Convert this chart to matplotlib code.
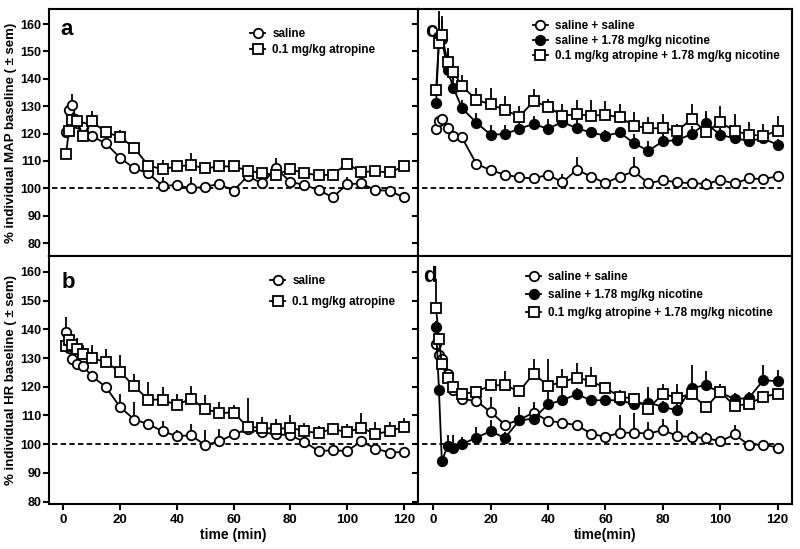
import numpy as np
import matplotlib
matplotlib.use("Agg")
import matplotlib.pyplot as plt

plt.rcParams['font.family'] = ['Liberation Sans', 'DejaVu Sans']

# sampling times (min)
time_min = [1, 2, 3, 5, 7, 10, 15, 20, 25, 30, 35, 40, 45, 50, 55, 60,
            65, 70, 75, 80, 85, 90, 95, 100, 105, 110, 115, 120]
baseline = 100

# panel a: MAP, saline vs atropine
a_saline = [120.7, 128.6, 130.4, 124.0, 122.5, 119.1, 116.4, 111.2, 107.3, 105.5, 100.9, 101.2, 100.0, 100.6,
            101.6, 99.1, 104.5, 101.8, 107.3, 102.4, 101.2, 99.4, 96.7, 101.5, 101.8, 99.4, 99.1, 96.7]
a_saline_err = [1, 1, 4, 1, 1, 1, 1, 1, 1, 1, 3.4, 1.5, 4, 1.5, 1.5, 1.5, 3, 1.5, 3.7, 1.5, 1.5, 1.5, 1.5,
                2.8, 1.5, 1.5, 1.5, 1.5]
a_atropine = [112.5, 121.0, 125.0, 124.5, 119.0, 124.5, 120.5, 118.8, 114.8, 108.3, 107.0, 108.0, 108.5, 107.3,
              108.0, 108.0, 106.5, 105.5, 105.0, 107.0, 105.5, 104.8, 105.0, 109.0, 106.0, 106.2, 105.8, 108.0]
a_atropine_err = [1, 1, 1, 1, 1, 3.8, 1.5, 2.5, 2, 2, 3.3, 2, 4.5, 2, 2, 2, 2, 2, 4, 2.2, 2, 2, 2, 2, 2, 2, 2, 2]

# panel b: HR, saline vs atropine
b_saline = [139.1, 133.5, 129.8, 128.0, 127.2, 123.8, 119.9, 113.0, 108.6, 107.0, 104.5, 102.8, 103.1, 99.7,
            101.0, 103.4, 105.2, 104.1, 103.5, 103.1, 100.8, 97.6, 97.9, 97.6, 101.0, 98.5, 97.1, 97.3]
b_saline_err = [5.2, 1, 1, 1, 1, 1, 1.5, 4.6, 6, 1.5, 3.5, 2, 4, 5.2, 4.4, 2, 2, 1.5, 1.5, 1.5, 1.5, 1.5,
                1.5, 1.5, 1.5, 1.5, 1.5, 1.5]
b_atropine = [134.2, 136.2, 134.4, 133.3, 131.5, 130.0, 128.6, 125.2, 120.2, 115.5, 115.5, 113.6, 115.9, 112.2,
              110.9, 111.0, 106.0, 105.8, 105.2, 105.8, 104.5, 103.9, 105.4, 104.1, 105.8, 103.5, 104.6, 106.0]
b_atropine_err = [1, 3, 3.5, 3.5, 3, 4.7, 4.7, 5.8, 4.4, 6.2, 4.5, 4, 4.4, 4.8, 3.8, 2.6, 10, 3.7, 3.5, 4.3,
                  3, 2.5, 2, 3, 4.9, 4.3, 3, 3]

# panel c: MAP, nicotine
c_sal_sal = [121.5, 124.7, 125.4, 122.2, 119.0, 118.6, 109.0, 106.6, 105.0, 104.0, 103.6, 105.0, 102.2, 106.8,
             104.3, 101.9, 104.3, 106.2, 101.8, 103.0, 102.2, 101.9, 101.6, 103.0, 101.8, 103.6, 103.4, 104.4]
c_sal_sal_err = [1, 1, 1, 1, 1, 1, 1.5, 1.5, 1.5, 1.5, 1.5, 1.5, 3, 4.5, 1.5, 1.5, 1.5, 5.4, 1.5, 1.5,
                 1.5, 1.5, 2, 1.5, 2, 1.5, 1.5, 1.5]
c_sal_nic = [131.0, 155.8, 154.7, 143.1, 136.8, 129.3, 124.0, 119.6, 119.8, 121.8, 123.5, 121.7, 124.3, 121.9,
             120.4, 119.2, 120.4, 116.4, 113.7, 117.2, 117.6, 119.8, 123.7, 119.6, 118.2, 117.4, 118.2, 115.9]
c_sal_nic_err = [1, 9, 6.7, 7, 5.7, 3, 3.4, 3.4, 3.4, 4, 3, 3.6, 4.7, 3, 2, 2, 2, 3.4, 3.7, 2.5, 3.4,
                 3.1, 3.4, 2.5, 2.5, 2, 2, 2]
c_atr_nic = [136.0, 153.0, 156.0, 146.2, 142.6, 137.4, 132.3, 130.7, 128.6, 126.2, 131.8, 129.8, 126.5, 127.1,
             126.5, 126.9, 125.9, 122.9, 121.9, 122.0, 121.0, 125.3, 120.7, 124.1, 121.0, 119.6, 119.2, 121.0]
c_atr_nic_err = [2, 9, 7, 5, 2.3, 4, 4.3, 6, 5.2, 4, 4.5, 3, 4.3, 5.1, 5.7, 5.1, 4.9, 4.8, 4, 5.1, 2.5,
                 5.5, 7.6, 6.1, 6.1, 4.5, 4.3, 5.5]

# panel d: HR, nicotine
d_sal_sal = [135.0, 131.0, 129.8, 124.6, 118.8, 115.7, 115.1, 111.2, 106.8, 108.5, 111.0, 108.1, 107.5, 106.6,
             103.7, 102.5, 104.0, 104.0, 103.7, 104.9, 102.9, 102.5, 102.2, 101.0, 103.4, 99.7, 99.9, 98.8]
d_sal_sal_err = [1, 1, 1, 1, 1, 1, 1.5, 5.3, 1.5, 1.5, 2.6, 1.5, 1.5, 1.5, 1.5, 1.5, 6, 6.7, 4.1, 4, 5.7,
                 2, 2, 2, 3.2, 1.5, 1.5, 1.5]
d_sal_nic = [140.8, 118.8, 94.2, 99.3, 98.7, 100.0, 102.3, 104.5, 102.2, 108.3, 108.9, 113.9, 115.3, 117.4,
             115.3, 115.3, 115.3, 113.9, 114.5, 113.0, 111.8, 119.6, 120.5, 118.0, 115.7, 116.1, 122.3, 121.9]
d_sal_nic_err = [2, 2, 1, 3.8, 4.4, 2.5, 3.7, 3.8, 2, 4.7, 5.8, 4.3, 4.6, 2, 2, 2, 2, 2, 5.4, 2, 7, 8.1,
                 4.9, 3, 2, 2, 5.2, 3.8]
d_atr_nic = [147.5, 136.5, 128.0, 123.0, 120.0, 117.5, 118.2, 120.5, 120.5, 118.4, 124.6, 120.3, 121.7, 123.2,
             121.9, 119.6, 116.5, 115.9, 112.4, 117.6, 116.1, 117.6, 112.8, 118.3, 113.3, 114.1, 116.5, 117.6]
d_atr_nic_err = [9.9, 2, 1.5, 1.5, 1.5, 2, 2, 2, 4.9, 2, 5.2, 9.5, 4.6, 5.2, 5, 2, 2.3, 2, 6.4, 3.5, 4.7,
                 2, 2, 2, 2, 2, 2, 2]

yticks = [80, 90, 100, 110, 120, 130, 140, 150, 160]
xticks = [0, 20, 40, 60, 80, 100, 120]


def draw_series(ax, y, err, marker, face, label):
    t = np.array(time_min)
    y = np.array(y)
    ax.vlines(t, y, y + np.array(err), color='black', lw=1.3, zorder=2)
    line, = ax.plot(t, y, color='black', lw=1.3, marker=marker, markersize=6.8,
                    markerfacecolor=face, markeredgecolor='black', markeredgewidth=1.3,
                    label=label, zorder=3)
    return line


def setup(ax, ylim, xlim, left_labels, bottom_labels):
    ax.set_xlim(*xlim)
    ax.set_ylim(*ylim)
    ax.set_yticks(yticks)
    ax.set_xticks(xticks)
    ax.hlines(baseline, -4, 121, color='black', lw=1.3, linestyles=(0, (3, 1.8)), zorder=1)
    ax.tick_params(direction='out', length=4, width=1.5, pad=1.5,
                   labelleft=left_labels, labelbottom=bottom_labels)
    ax.tick_params(axis='y', labelsize=9)
    ax.tick_params(axis='x', labelsize=9.5, pad=3)
    for lab in ax.get_xticklabels() + ax.get_yticklabels():
        lab.set_fontweight('bold')
    for s in ax.spines.values():
        s.set_linewidth(1.5)


fig = plt.figure(figsize=(8, 5.49), dpi=100)
ax_a = fig.add_axes([0.06125, 0.5337, 0.46125, 0.45])
ax_b = fig.add_axes([0.06125, 0.082, 0.46125, 0.4517])
ax_c = fig.add_axes([0.5225, 0.5337, 0.4675, 0.45])
ax_d = fig.add_axes([0.5225, 0.082, 0.4675, 0.4517])

setup(ax_a, (75.3, 165.5), (-5, 125), True, False)
setup(ax_b, (79.2, 165.5), (-5, 125), True, True)
setup(ax_c, (75.3, 165.5), (-5.3, 125), False, False)
setup(ax_d, (79.2, 165.5), (-5.3, 125), False, True)

draw_series(ax_a, a_saline, a_saline_err, 'o', 'white', 'saline')
draw_series(ax_a, a_atropine, a_atropine_err, 's', 'white', '0.1 mg/kg atropine')
draw_series(ax_b, b_saline, b_saline_err, 'o', 'white', 'saline')
draw_series(ax_b, b_atropine, b_atropine_err, 's', 'white', '0.1 mg/kg atropine')
for ax, ss, sse, sn, sne, an, ane in [
        (ax_c, c_sal_sal, c_sal_sal_err, c_sal_nic, c_sal_nic_err, c_atr_nic, c_atr_nic_err),
        (ax_d, d_sal_sal, d_sal_sal_err, d_sal_nic, d_sal_nic_err, d_atr_nic, d_atr_nic_err)]:
    draw_series(ax, ss, sse, 'o', 'white', 'saline + saline')
    draw_series(ax, sn, sne, 'o', 'black', 'saline + 1.78 mg/kg nicotine')
    draw_series(ax, an, ane, 's', 'white', '0.1 mg/kg atropine + 1.78 mg/kg nicotine')

ax_a.set_ylabel('% individual MAP baseline ( \u00b1 sem)', fontsize=9.5, fontweight='bold')
ax_b.set_ylabel('% individual HR baseline ( \u00b1 sem)', fontsize=9.5, fontweight='bold')
ax_a.yaxis.set_label_coords(-0.088, 0.5)
ax_b.yaxis.set_label_coords(-0.088, 0.5)
ax_b.set_xlabel('time (min)', fontsize=10, fontweight='bold', labelpad=2)
ax_d.set_xlabel('time(min)', fontsize=10, fontweight='bold', labelpad=2)

for ax, letter, x, y in [(ax_a, 'a', 0.03, 0.895), (ax_b, 'b', 0.035, 0.871),
                         (ax_c, 'c', 0.019, 0.887), (ax_d, 'd', 0.013, 0.895)]:
    ax.text(x, y, letter, transform=ax.transAxes, fontsize=16, fontweight='bold', va='baseline')

leg_kw = dict(frameon=False, loc='upper left', borderpad=0, borderaxespad=0,
              handlelength=1.3, handletextpad=0.6, prop={'weight': 'bold', 'size': 8.4})
ax_a.legend(bbox_to_anchor=(0.545, 0.924), labelspacing=0.4, **leg_kw)
ax_b.legend(bbox_to_anchor=(0.599, 0.922), labelspacing=0.76, **leg_kw)
ax_c.legend(bbox_to_anchor=(0.307, 0.956), labelspacing=0.28, **leg_kw)
ax_d.legend(bbox_to_anchor=(0.289, 0.94), labelspacing=0.53, **leg_kw)

fig.savefig('out.png', dpi=100)
